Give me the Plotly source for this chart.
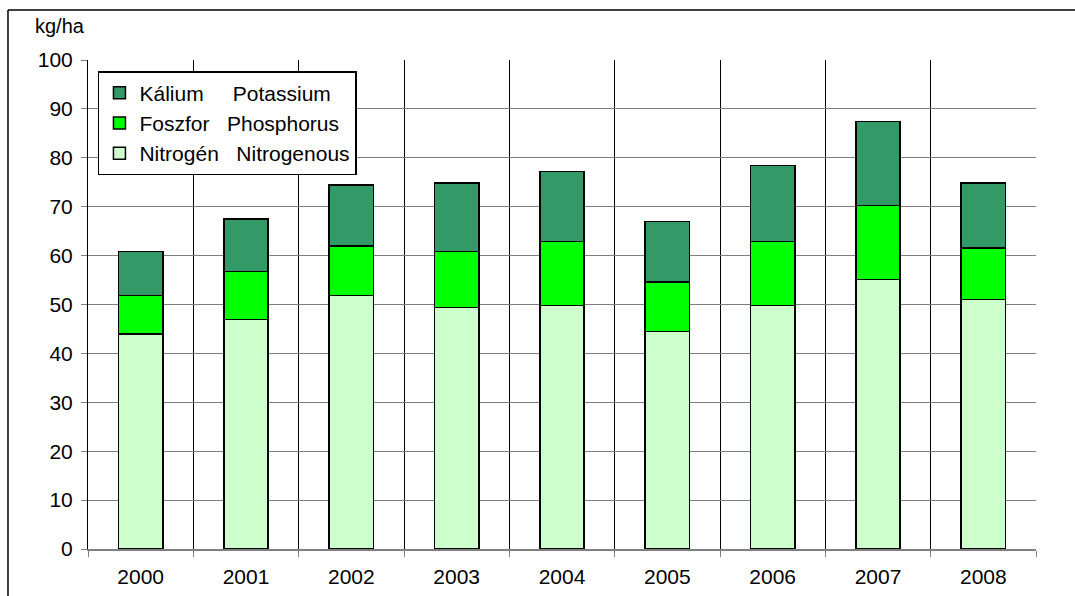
import plotly.graph_objects as go

years = ["2000", "2001", "2002", "2003", "2004", "2005", "2006", "2007", "2008"]
nitrogen = [44.0, 46.9, 51.8, 49.4, 49.8, 44.5, 49.8, 55.1, 51.0]
phosphorus = [7.8, 9.8, 10.2, 11.4, 13.1, 10.1, 13.1, 15.1, 10.6]
potassium = [9.0, 10.8, 12.4, 14.0, 14.3, 12.4, 15.5, 17.2, 13.2]

y_ticks = list(range(0, 101, 10))

NB = "\u00a0"
series = [
    ("Nitrogén" + NB * 3 + "Nitrogenous", nitrogen, "#CCFFCC"),
    ("Foszfor" + NB * 3 + "Phosphorus", phosphorus, "#00FF00"),
    ("Kálium" + NB * 5 + "Potassium", potassium, "#339966"),
]

FONT = "Liberation Sans, Arial, sans-serif"
FS = 21

fig = go.Figure()
for i, (name, vals, color) in enumerate(series):
    fig.add_trace(go.Bar(
        x=years, y=vals, name=name, legendgroup=str(i),
        marker=dict(color=color, line=dict(color="#000000", width=1.5)),
        width=0.42,
    ))

fig.update_layout(
    width=1075, height=596,
    barmode="stack",
    plot_bgcolor="#FFFFFF", paper_bgcolor="#FFFFFF",
    margin=dict(l=88, r=39, t=60, b=47),
    font=dict(family=FONT, size=FS, color="#000000"),
    showlegend=True,
    legend=dict(
        x=0.0105, y=0.9775, xanchor="left", yanchor="top",
        traceorder="reversed", tracegroupgap=6,
        bgcolor="#FFFFFF", bordercolor="#000000", borderwidth=1.5,
        font=dict(family=FONT, size=FS, color="#000000"),
    ),
    xaxis=dict(
        type="category", tickson="boundaries", automargin=False,
        showgrid=True, gridcolor="#000000", gridwidth=1,
        ticks="outside", ticklen=6, tickcolor="#808080",
        showline=True, linecolor="#808080", linewidth=1.5,
        ticklabelstandoff=8,
        tickfont=dict(family=FONT, size=FS),
    ),
    yaxis=dict(
        range=[0, 100], tickvals=y_ticks, automargin=False,
        showgrid=True, gridcolor="#808080", gridwidth=1.3,
        ticks="outside", ticklen=6, tickcolor="#808080",
        showline=True, linecolor="#000000", linewidth=1,
        zeroline=False, ticklabelstandoff=4,
        tickfont=dict(family=FONT, size=FS),
    ),
    annotations=[dict(
        text="kg/ha", xref="paper", yref="paper",
        x=-0.058, y=1.043, xanchor="left", yanchor="bottom",
        showarrow=False, font=dict(family=FONT, size=FS - 1),
    )],
    shapes=[
        dict(type="line", xref="paper", yref="paper",
             x0=-0.0844, x1=1.1, y0=1.102, y1=1.102,
             line=dict(color="#000000", width=1.5)),
        dict(type="line", xref="paper", yref="paper",
             x0=-0.0844, x1=-0.0844, y0=1.102, y1=-0.2,
             line=dict(color="#000000", width=1.5)),
    ],
)

fig.write_html("out.html")
